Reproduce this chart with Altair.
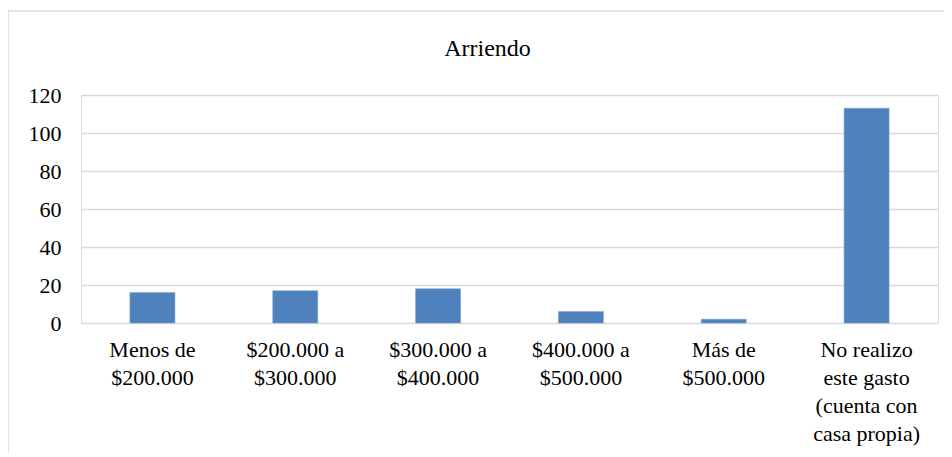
import altair as alt
import pandas as pd

categories = [
    "Menos de\n$200.000",
    "$200.000 a\n$300.000",
    "$300.000 a\n$400.000",
    "$400.000 a\n$500.000",
    "Más de\n$500.000",
    "No realizo\neste gasto\n(cuenta con\ncasa propia)",
]
values = [16, 17, 18, 6, 2, 113]
y_ticks = [0, 20, 40, 60, 80, 100, 120]

df = pd.DataFrame({"cat": categories, "val": values})

FONT = "Liberation Serif"

bars = alt.Chart(df).mark_bar(color="#4f81bd", stroke="#7fa3d3", strokeWidth=0.6).encode(
    x=alt.X(
        "cat:N",
        sort=categories,
        title=None,
        scale=alt.Scale(paddingInner=0.685, paddingOuter=0.3425),
        axis=alt.Axis(
            labelAngle=0,
            labelExpr="split(datum.label, '\\n')",
            labelLineHeight=28,
            labelFontSize=22,
            labelFont=FONT,
            labelColor="#000000",
            labelPadding=16,
            ticks=False,
            domain=False,
            labelBaseline="top",
        ),
    ),
    y=alt.Y(
        "val:Q",
        title=None,
        scale=alt.Scale(domain=[0, 120], nice=False),
        axis=alt.Axis(
            values=y_ticks,
            labelFontSize=22,
            labelFont=FONT,
            labelColor="#000000",
            labelPadding=20,
            ticks=False,
            domain=False,
            grid=True,
            gridColor="#d9d9d9",
            gridWidth=1.5,
        ),
    ),
)

frame = alt.Chart(alt.Data(values=[{"f": 1}])).mark_rect(
    fill="white", fillOpacity=0, stroke="#d9d9d9", strokeWidth=1.5
).encode(
    x=alt.value(-73),
    x2=alt.value(960),
    y=alt.value(-84),
    y2=alt.value(500),
)

chart = alt.layer(frame, bars).properties(
    width=857,
    height=228,
    title=alt.TitleParams(
        "Arriendo",
        font=FONT,
        fontSize=24,
        fontWeight="normal",
        color="#000000",
        anchor="middle",
        frame="group",
        baseline="alphabetic",
        offset=0,
        dy=70,
        dx=-22,
    ),
    autosize=alt.AutoSizeParams(type="none"),
    padding={"left": 73, "top": 87, "right": 6, "bottom": 130},
).configure_view(stroke=None).configure(background="white")

chart.save("out.html", embed_options={"renderer": "svg", "actions": False})
